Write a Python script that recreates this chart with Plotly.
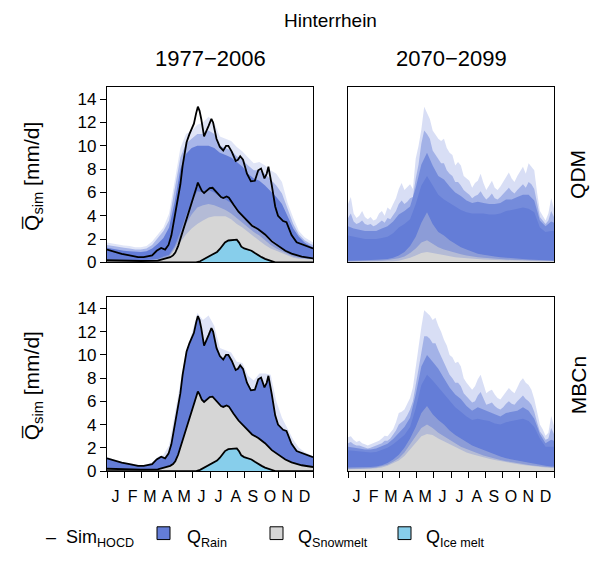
import plotly.graph_objects as go

# ---------------- data ----------------
MONTHS = ["J", "F", "M", "A", "M", "J", "J", "A", "S", "O", "N", "D"]
DAYS10 = list(range(0, 361, 10)) + [365]
DAYS5 = list(range(0, 366, 5))

# Sim_HOCD reference lines (historical)
HOCD_TOTAL_DAY = [0,10,26,40,55,65,73,80,88,96,103,109,114,118,124,130,134,138,141,146,
                  149,154,158,161,164,167,172,176,180,185,188,194,200,206,211,215,221,228,232,236,
                  241,248,255,262,268,273,279,283,286,292,298,303,307,312,318,322,327,336,348,357,365]
HOCD_TOTAL = [1.1,0.95,0.73,0.6,0.45,0.45,0.5,0.6,1.0,1.24,1.1,1.5,2.3,3.4,5.4,6.7,8.3,9.5,10.3,11.0,
              11.4,11.9,12.8,13.35,13.0,12.3,10.8,11.2,11.7,12.3,12.0,10.6,9.9,9.6,10.0,10.0,9.5,8.7,8.8,9.1,
              8.8,7.6,6.95,7.0,7.9,8.05,7.2,7.6,8.2,6.6,4.8,4.0,3.8,3.55,3.45,2.9,2.35,1.72,1.52,1.35,1.2]
HOCD_SNOW_DAY = [0,30,60,90,100,106,112,117,121,126,130,135,139,144,148,152,156,159,161,164,
                 168,172,176,182,187,192,197,202,206,212,216,220,224,233,245,257,268,280,292,304,
                 316,327,345,365]
HOCD_SNOW = [0.2,0.15,0.12,0.15,0.3,0.35,0.45,0.6,0.85,1.4,2.0,2.8,3.4,4.2,4.9,5.4,5.95,6.5,6.85,6.6,
             6.14,5.95,6.1,6.37,6.4,6.1,5.8,5.6,5.52,5.65,5.55,5.2,4.96,4.35,3.75,3.15,2.85,2.4,1.8,1.4,
             1.0,0.75,0.5,0.35]
HOCD_ICE_DAY = [0,158,165,175,185,195,200,205,209,215,222,230,234,238,243,250,256,262,268,274,
                280,286,292,298,365]
HOCD_ICE = [0,0,0.1,0.35,0.6,0.9,1.15,1.45,1.72,1.88,1.9,1.95,1.7,1.35,1.2,1.12,1.0,0.8,0.6,0.45,
            0.3,0.18,0.08,0,0]

# QDM 1977-2006 ensemble (DAYS10)
TL_RAIN_MAX = [1.7,1.6,1.5,1.45,1.4,1.3,1.3,1.4,1.8,2.4,3.0,4.2,6.9,9.8,11.0,11.3,11.8,12.0,12.5,12.0,
               10.8,10.6,10.4,9.9,9.5,9.0,8.5,8.6,8.3,7.9,7.6,6.9,5.1,3.8,2.7,2.15,1.8,1.7]
TL_RAIN_MID = [1.5,1.4,1.3,1.25,1.2,1.1,1.1,1.2,1.5,2.1,2.7,3.6,6.2,9.0,10.2,10.6,11.0,11.0,11.3,11.0,
               10.0,9.8,9.6,9.1,8.8,8.3,7.9,7.9,7.6,7.1,6.6,5.9,4.6,3.3,2.4,1.9,1.6,1.5]
TL_RAIN_CORE = [1.25,1.15,1.05,1.0,0.95,0.9,0.9,0.95,1.2,1.6,2.1,3.0,5.2,8.0,9.3,9.8,10.0,10.0,10.0,9.8,
                9.4,9.2,9.0,8.6,8.2,7.6,7.2,7.0,6.6,6.1,5.6,5.0,4.0,2.9,2.2,1.7,1.4,1.3]
TL_SNOW_MAX = [0.25,0.23,0.2,0.2,0.18,0.18,0.18,0.2,0.25,0.3,0.5,0.65,1.4,2.6,4.0,5.2,6.1,6.0,6.2,6.0,
               5.6,5.4,5.1,4.6,4.1,3.6,3.2,2.8,2.4,2.0,1.6,1.25,0.95,0.7,0.55,0.45,0.35,0.33]
TL_SNOW_MID = [0.22,0.2,0.18,0.17,0.16,0.16,0.16,0.17,0.2,0.25,0.4,0.55,1.25,2.2,3.3,4.1,4.7,4.9,5.0,4.9,
               4.7,4.5,4.2,3.8,3.4,3.0,2.6,2.3,1.9,1.5,1.2,0.95,0.7,0.5,0.4,0.33,0.28,0.27]
TL_SNOW_CORE = [0.2,0.18,0.16,0.15,0.14,0.14,0.14,0.15,0.15,0.15,0.25,0.45,1.1,1.8,2.4,2.9,3.3,3.6,3.85,3.95,
                3.95,3.95,3.7,3.3,3.0,2.6,2.25,1.85,1.5,1.2,1.0,0.8,0.6,0.4,0.32,0.27,0.25,0.25]

# MBCn 1977-2006 ensemble upper envelope (DAYS10)
BL_RAIN_MAX = [1.2,1.0,0.85,0.75,0.65,0.55,0.5,0.55,0.75,1.2,1.4,2.2,5.0,7.5,10.3,11.8,13.6,13.0,13.4,12.5,
               10.6,10.4,10.2,9.4,9.3,8.2,7.8,8.4,8.4,8.3,6.0,4.6,3.7,2.7,2.0,1.65,1.4,1.3]

# QDM 2070-2099 ensemble
TR_RAIN_MAX = [5.0,5.6,4.2,3.8,4.0,4.4,3.9,3.7,3.9,3.6,3.7,4.2,4.4,4.0,4.7,4.5,5.0,5.5,6.3,6.8,
               6.2,6.5,6.7,6.3,8.9,10.0,11.4,13.35,12.8,12.3,11.3,10.9,10.6,10.4,10.6,9.8,9.4,9.2,8.3,8.6,
               8.3,7.4,7.2,7.0,6.4,6.8,7.0,7.6,6.8,6.2,6.6,7.0,6.4,6.2,6.5,6.9,7.4,7.7,7.2,6.9,
               7.4,7.8,8.2,7.6,8.5,8.2,7.9,6.0,4.4,4.0,3.6,4.2,5.5,4.6]
TR_RAIN_Q85 = [3.8,4.2,3.5,3.3,3.4,3.6,3.3,3.2,3.3,3.1,3.2,3.4,3.6,3.4,3.8,3.7,4.0,4.4,5.0,5.3,
               5.0,5.2,5.5,5.6,7.2,8.4,10.2,11.3,11.0,10.6,9.6,9.2,8.8,8.5,8.5,7.9,7.6,7.4,6.9,6.9,
               6.6,6.2,6.0,5.8,5.5,5.7,5.8,6.1,5.7,5.4,5.6,5.9,5.5,5.4,5.6,5.9,6.2,6.4,6.1,5.9,
               6.2,6.5,6.7,6.4,6.9,6.7,6.3,5.1,3.9,3.6,3.3,3.6,4.4,3.9]
TR_RAIN_Q60 = [3.1,2.9,2.8,2.7,2.7,2.7,2.9,3.1,3.5,4.1,4.4,4.8,6.4,8.4,9.4,8.3,7.4,7.1,6.5,6.0,
               5.7,5.3,5.1,5.2,5.1,5.0,5.0,5.1,5.4,5.4,5.6,5.8,5.8,5.3,3.6,3.1,3.5,3.4]
TR_RAIN_CORE = [2.3,2.2,2.1,2.0,2.0,2.0,2.1,2.2,2.5,3.0,3.3,3.7,5.0,6.6,7.4,6.6,5.8,5.4,5.1,4.8,
                4.5,4.3,4.2,4.2,4.2,4.1,4.1,4.2,4.4,4.5,4.6,4.7,4.6,4.3,3.0,2.6,2.7,2.7]
TR_SNOW_MAX = [0.15,0.15,0.15,0.15,0.2,0.22,0.25,0.3,0.4,0.6,0.9,1.4,2.2,3.4,4.3,3.3,2.6,2.3,1.9,1.6,
               1.3,1.1,0.9,0.75,0.65,0.55,0.5,0.45,0.4,0.35,0.3,0.28,0.25,0.22,0.2,0.18,0.15,0.15]
TR_SNOW_MID = [0.1,0.1,0.1,0.1,0.12,0.14,0.16,0.2,0.26,0.35,0.5,0.8,1.2,1.7,1.9,1.6,1.3,1.1,0.95,0.8,
               0.7,0.6,0.5,0.45,0.4,0.35,0.3,0.28,0.25,0.22,0.2,0.19,0.18,0.17,0.16,0.15,0.14,0.14]
TR_SNOW_CORE = [0.05,0.05,0.05,0.05,0.06,0.07,0.08,0.09,0.1,0.15,0.25,0.4,0.6,0.8,0.9,0.8,0.7,0.6,0.5,0.45,
                0.4,0.35,0.3,0.28,0.25,0.22,0.2,0.18,0.16,0.15,0.14,0.13,0.12,0.11,0.1,0.1,0.1,0.1]

# MBCn 2070-2099 ensemble
BR_RAIN_MAX = [2.9,3.0,2.7,2.5,2.6,2.4,2.3,2.2,2.3,2.4,2.5,2.6,2.8,3.05,3.0,3.3,3.6,4.2,5.0,5.1,
               5.3,5.8,6.3,7.2,9.0,10.8,12.4,13.85,13.6,13.4,13.0,13.2,12.5,12.0,11.3,10.8,10.0,9.8,9.3,9.4,
               9.0,8.0,7.6,7.3,7.0,7.3,7.9,8.3,7.5,6.7,6.9,7.0,6.6,6.3,6.15,6.5,6.9,7.15,6.9,6.7,
               7.2,7.7,8.0,7.6,7.4,7.0,6.2,5.0,4.0,3.6,3.05,3.3,4.75,3.9]
BR_RAIN_Q85 = [2.4,2.5,2.3,2.2,2.2,2.1,2.0,1.95,2.0,2.1,2.2,2.3,2.4,2.6,2.6,2.8,3.1,3.5,4.0,4.2,
               4.4,4.8,5.3,6.0,7.5,9.0,10.4,11.6,11.6,11.4,11.0,11.0,10.4,9.9,9.3,8.8,8.3,8.0,7.6,7.6,
               7.3,6.7,6.4,6.1,5.9,6.0,6.5,6.8,6.2,5.7,5.8,5.9,5.6,5.4,5.3,5.5,5.8,6.0,5.8,5.7,
               6.0,6.3,6.5,6.2,6.0,5.7,5.1,4.2,3.4,3.1,2.7,2.8,3.7,3.2]
BR_RAIN_Q60 = [2.1,2.05,1.95,1.85,1.85,1.95,2.15,2.35,2.75,3.3,3.8,4.6,6.6,9.0,10.0,9.4,8.8,8.0,7.2,6.6,
               6.2,5.6,5.2,5.5,5.3,5.1,4.9,4.7,5.0,5.1,5.2,5.5,5.2,4.5,3.2,2.4,2.7,2.6]
BR_RAIN_CORE = [1.8,1.75,1.65,1.6,1.6,1.65,1.8,2.0,2.3,2.7,3.1,3.8,5.4,7.4,8.3,7.8,7.2,6.6,6.0,5.5,
                5.1,4.7,4.4,4.5,4.4,4.3,4.1,4.0,4.2,4.3,4.4,4.5,4.3,3.8,2.8,2.1,2.1,2.1]
BR_SNOW_MAX = [0.3,0.3,0.3,0.3,0.35,0.4,0.5,0.7,1.0,1.4,2.0,2.8,3.8,5.0,5.6,4.9,4.4,4.0,3.5,3.1,
               2.8,2.5,2.2,2.0,1.8,1.6,1.4,1.25,1.1,1.0,0.9,0.8,0.7,0.6,0.5,0.45,0.4,0.4]
BR_SNOW_MID = [0.2,0.2,0.2,0.22,0.25,0.3,0.4,0.55,0.8,1.1,1.6,2.3,3.0,3.7,4.0,3.7,3.3,3.0,2.7,2.4,
               2.1,1.9,1.7,1.5,1.35,1.2,1.05,0.95,0.85,0.75,0.68,0.6,0.52,0.45,0.4,0.35,0.3,0.3]
BR_SNOW_CORE = [0.15,0.15,0.15,0.17,0.2,0.25,0.3,0.45,0.65,0.9,1.3,1.9,2.5,3.0,3.2,3.1,2.8,2.55,2.3,2.05,
                1.8,1.6,1.45,1.3,1.2,1.05,0.95,0.85,0.75,0.68,0.6,0.52,0.45,0.4,0.35,0.3,0.28,0.28]

# ---------------- styling ----------------
FONT = "Liberation Sans, Arial, sans-serif"
W, H = 600, 582
BLUE = (100, 125, 215)
GREY = (214, 214, 214)
ICE = "rgb(135,206,235)"


def rgba(c, a):
    return f"rgba({c[0]},{c[1]},{c[2]},{a})"


fig = go.Figure()


def area(x, y, ax, color):
    fig.add_trace(go.Scatter(x=x, y=y, xaxis="x" + ax, yaxis="y" + ax, mode="lines",
                             line=dict(width=0), fill="tozeroy", fillcolor=color,
                             hoverinfo="skip", showlegend=False))


def line(x, y, ax):
    fig.add_trace(go.Scatter(x=x, y=y, xaxis="x" + ax, yaxis="y" + ax, mode="lines",
                             line=dict(width=1.8, color="black"), hoverinfo="skip",
                             showlegend=False))


# Top-left: QDM 1977-2006
area(DAYS10, TL_RAIN_MAX, "", rgba(BLUE, 0.2))
area(DAYS10, TL_RAIN_MID, "", rgba(BLUE, 0.45))
area(DAYS10, TL_RAIN_CORE, "", rgba(BLUE, 1))
area(DAYS10, TL_SNOW_MAX, "", rgba(GREY, 0.35))
area(DAYS10, TL_SNOW_MID, "", rgba(GREY, 0.55))
area(DAYS10, TL_SNOW_CORE, "", rgba(GREY, 1))
area(HOCD_ICE_DAY, HOCD_ICE, "", ICE)
line(HOCD_TOTAL_DAY, HOCD_TOTAL, "")
line(HOCD_SNOW_DAY, HOCD_SNOW, "")
line(HOCD_ICE_DAY, HOCD_ICE, "")

# Top-right: QDM 2070-2099
area(DAYS5, TR_RAIN_MAX, "2", rgba(BLUE, 0.25))
area(DAYS5, TR_RAIN_Q85, "2", rgba(BLUE, 0.45))
area(DAYS10, TR_RAIN_Q60, "2", rgba(BLUE, 0.75))
area(DAYS10, TR_RAIN_CORE, "2", rgba(BLUE, 1))
area(DAYS10, TR_SNOW_MAX, "2", rgba(GREY, 0.35))
area(DAYS10, TR_SNOW_MID, "2", rgba(GREY, 0.55))
area(DAYS10, TR_SNOW_CORE, "2", rgba(GREY, 1))

# Bottom-left: MBCn 1977-2006
area(DAYS10, BL_RAIN_MAX, "3", rgba(BLUE, 0.22))
area(HOCD_TOTAL_DAY, HOCD_TOTAL, "3", rgba(BLUE, 1))
area(HOCD_SNOW_DAY, HOCD_SNOW, "3", rgba(GREY, 1))
area(HOCD_ICE_DAY, HOCD_ICE, "3", ICE)
line(HOCD_TOTAL_DAY, HOCD_TOTAL, "3")
line(HOCD_SNOW_DAY, HOCD_SNOW, "3")
line(HOCD_ICE_DAY, HOCD_ICE, "3")

# Bottom-right: MBCn 2070-2099
area(DAYS5, BR_RAIN_MAX, "4", rgba(BLUE, 0.25))
area(DAYS5, BR_RAIN_Q85, "4", rgba(BLUE, 0.45))
area(DAYS10, BR_RAIN_Q60, "4", rgba(BLUE, 0.75))
area(DAYS10, BR_RAIN_CORE, "4", rgba(BLUE, 1))
area(DAYS10, BR_SNOW_MAX, "4", rgba(GREY, 0.35))
area(DAYS10, BR_SNOW_MID, "4", rgba(GREY, 0.55))
area(DAYS10, BR_SNOW_CORE, "4", rgba(GREY, 1))

# ---------------- axes ----------------
XL = [107 / W, 313 / W]
XR = [348 / W, 554 / W]
YT = [1 - 267 / H, 1 - 89 / H]
YB = [1 - 479.3 / H, 1 - 302 / H]

month_len = 365 / 12
bounds = [i * month_len for i in range(13)]
centers = [(i + 0.5) * month_len for i in range(12)]

frame = dict(showline=True, mirror=True, linecolor="black", linewidth=1.4,
             showgrid=False, zeroline=False)


def xaxis(dom, anchor, bottom):
    d = dict(domain=dom, range=[0, 365], anchor=anchor, **frame)
    if bottom:
        d.update(tickmode="array", tickvals=centers, ticktext=MONTHS, ticks="outside",
                 ticklen=11, tickcolor="rgba(0,0,0,0)",
                 tickfont=dict(family=FONT, size=16, color="black"),
                 minor=dict(tickvals=bounds, ticks="outside", ticklen=6, tickwidth=1.2,
                            tickcolor="black"))
    else:
        d.update(showticklabels=False, ticks="")
    return d


def yaxis(dom, anchor, left):
    d = dict(domain=dom, range=[0, 15], anchor=anchor, **frame)
    if left:
        d.update(tickmode="array", tickvals=list(range(0, 15, 2)), ticks="outside",
                 ticklen=6, tickwidth=1.2, tickcolor="black",
                 tickfont=dict(family=FONT, size=17, color="black"))
    else:
        d.update(showticklabels=False, ticks="")
    return d


fig.update_layout(
    width=W, height=H, margin=dict(l=0, r=0, t=0, b=0),
    paper_bgcolor="white", plot_bgcolor="white", showlegend=False,
    xaxis=xaxis(XL, "y", False), yaxis=yaxis(YT, "x", True),
    xaxis2=xaxis(XR, "y2", False), yaxis2=yaxis(YT, "x2", False),
    xaxis3=xaxis(XL, "y3", True), yaxis3=yaxis(YB, "x3", True),
    xaxis4=xaxis(XR, "y4", True), yaxis4=yaxis(YB, "x4", False),
)

# ---------------- text ----------------
def ann(text, x, y, size, angle=0, xanchor="center"):
    fig.add_annotation(text=text, x=x / W, y=1 - y / H, xref="paper", yref="paper",
                       showarrow=False, textangle=angle, xanchor=xanchor, yanchor="middle",
                       font=dict(family=FONT, size=size, color="black"))


ann("Hinterrhein", 330.5, 21, 19)
ann("1977\u22122006", 210, 60, 22)
ann("2070\u22122099", 451, 60, 22)
ylab = "Q\u0305<sub>sim</sub> [mm/d]"
ann(ylab, 33, 180, 21, angle=-90)
ann(ylab, 33, 393, 21, angle=-90)
ann("QDM", 578, 178, 21, angle=-90)
ann("MBCn", 578, 392, 21, angle=-90)

# legend
ann("\u2013  Sim<sub>HOCD</sub>", 44, 548, 18, xanchor="left")
ann("Q<sub>Rain</sub>", 185, 548, 18, xanchor="left")
ann("Q<sub>Snowmelt</sub>", 296, 548, 18, xanchor="left")
ann("Q<sub>Ice melt</sub>", 424, 548, 18, xanchor="left")
for x0, col in [(157, rgba(BLUE, 1)), (270, rgba(GREY, 1)), (398, ICE)]:
    fig.add_shape(type="rect", xref="paper", yref="paper",
                  x0=x0 / W, x1=(x0 + 13) / W, y0=1 - 549 / H, y1=1 - 536 / H,
                  fillcolor=col, line=dict(color="black", width=1))

fig.write_html("out.html", config={"displayModeBar": False},
               post_script="document.body.style.margin='0';document.body.style.overflow='hidden';")
